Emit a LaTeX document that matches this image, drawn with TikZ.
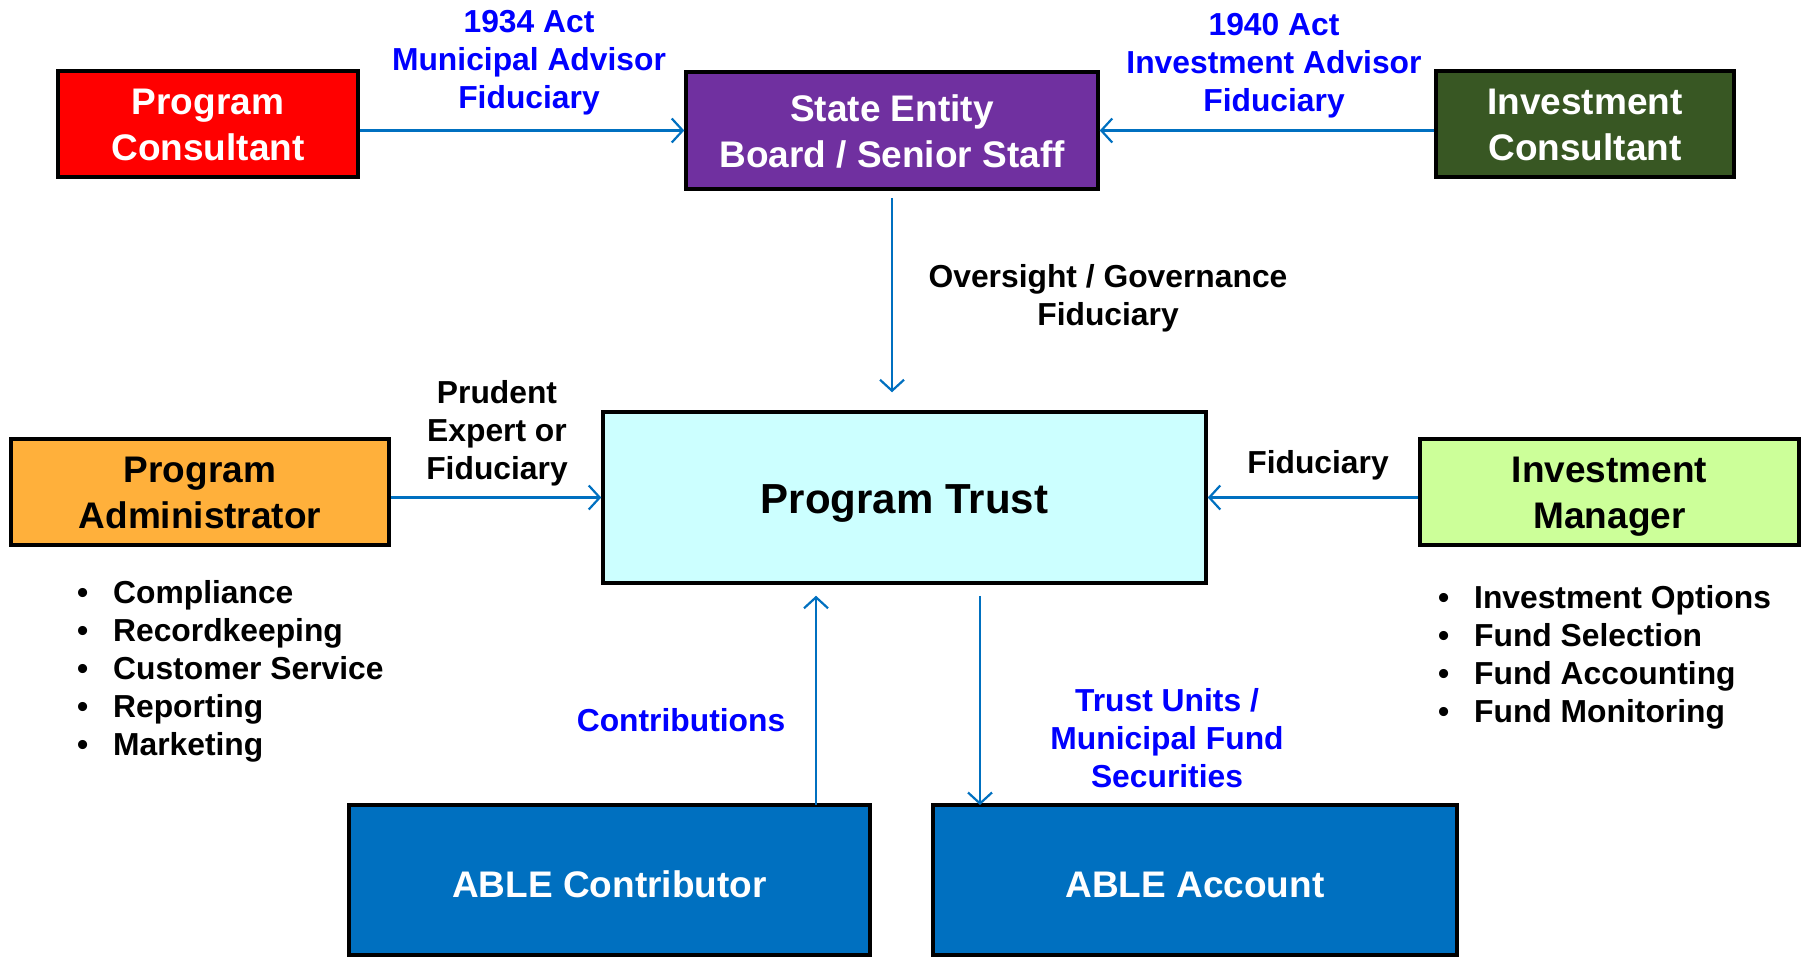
\documentclass[tikz,border=0pt]{standalone}
\usepackage{fontspec}
\setmainfont{Liberation Sans}
\usetikzlibrary{arrows.meta,positioning}

\definecolor{consRed}{HTML}{FF0000}
\definecolor{statePurple}{HTML}{7030A0}
\definecolor{consGreen}{HTML}{385723}
\definecolor{adminOrange}{HTML}{FFB03B}
\definecolor{trustCyan}{HTML}{CCFFFF}
\definecolor{mgrGreen}{HTML}{CCFF99}
\definecolor{ableBlue}{HTML}{0070C0}
\definecolor{linkBlue}{HTML}{0070C0}
\definecolor{labelBlue}{HTML}{0000FF}

\newcommand{\listdot}{\makebox[36pt][l]{\textbullet}}

\begin{document}
\begin{tikzpicture}[x=1pt,y=-1pt,->,>={Straight Barb[length=11pt,width=24pt]},
    box/.style={draw=black,line width=3.5pt,inner sep=0pt,align=center,font=\fontsize{37}{46}\selectfont\bfseries,
        text height=35pt,text depth=8pt},
    twoline/.style={text height=81pt},
    edgetag/.style={inner sep=0pt,align=center,font=\fontsize{31.8}{38}\selectfont\bfseries},
    listitem/.style={inner sep=0pt,anchor=base west,font=\fontsize{31.8}{38}\selectfont\bfseries}]
    \useasboundingbox (0,0) rectangle (1808,959);

    % boxes
    \node[box,twoline,fill=consRed,text=white,minimum width=300pt,minimum height=106pt] (pc) at (208,124) {Program\\Consultant};
    \node[box,twoline,fill=statePurple,text=white,minimum width=412pt,minimum height=117pt] (se) at (892,130.5) {State Entity\\Board / Senior Staff};
    \node[box,twoline,fill=consGreen,text=white,minimum width=298pt,minimum height=106pt] (ic) at (1585,124) {Investment\\Consultant};
    \node[box,twoline,fill=adminOrange,minimum width=378pt,minimum height=106pt] (pa) at (200,492) {Program\\Administrator};
    \node[box,fill=trustCyan,minimum width=603pt,minimum height=171pt,font=\fontsize{42}{50}\selectfont\bfseries,
        text height=40pt,text depth=9pt] (pt) at (904.5,497.5) {Program Trust};
    \node[box,twoline,fill=mgrGreen,minimum width=379pt,minimum height=106pt] (im) at (1609.5,492) {Investment\\Manager};
    \node[box,fill=ableBlue,text=white,minimum width=521pt,minimum height=150pt,text depth=0pt] (ac) at (609.5,880) {ABLE Contributor};
    \node[box,fill=ableBlue,text=white,minimum width=524pt,minimum height=150pt,text depth=0pt] (aa) at (1195,880) {ABLE Account};

    \coordinate (cin) at (816,805);
    \coordinate (tout) at (980,805);

    % labels
    \node[edgetag,text=labelBlue] (act34) at (529,62.5) {1934 Act\\Municipal Advisor\\Fiduciary};
    \node[edgetag,text=labelBlue] (act40) at (1274,65.5) {1940 Act\\Investment Advisor\\Fiduciary};
    \node[edgetag] (overs) at (1108,298) {Oversight / Governance\\Fiduciary};
    \node[edgetag] (prud) at (497,433) {Prudent\\Expert or\\Fiduciary};
    \node[edgetag] (fidim) at (1318,465) {Fiduciary};
    \node[edgetag,text=labelBlue] (contr) at (681,720) {Contributions};
    \node[edgetag,text=labelBlue] (units) at (1167,738) {Trust Units /\\Municipal Fund\\Securities};

    % duties
    \foreach \txt [count=\i from 0] in {Compliance,Recordkeeping,Customer Service,Reporting,Marketing}
        \node[listitem] (pa\i) at (77,{603+38*\i}) {\listdot\txt};
    \foreach \txt [count=\i from 0] in {Investment Options,Fund Selection,Fund Accounting,Fund Monitoring}
        \node[listitem] (im\i) at (1438,{608+38*\i}) {\listdot\txt};

    \path[every edge/.append style={draw=linkBlue,line width=2.2pt}]
        (se.west -| pc.east) edge (se.west)
        (se.east -| ic.west) edge (se.east)
        (se.south) edge[shorten <=7pt,shorten >=18pt] (se.south |- pt.north)
        (pt.west -| pa.east) edge (pt.west)
        (pt.east -| im.west) edge (pt.east)
        (cin) edge[shorten >=11pt] (cin |- pt.south)
        (tout |- pt.south) edge[shorten <=11pt] (tout)
    ;
\end{tikzpicture}
\end{document}
